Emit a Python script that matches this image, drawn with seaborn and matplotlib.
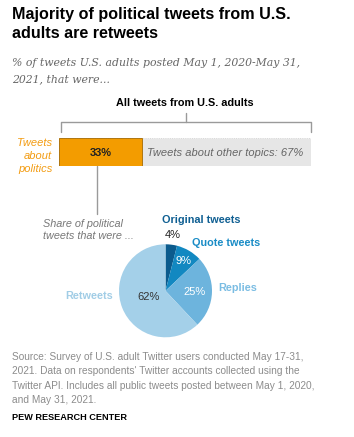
import numpy as np
import pandas as pd
import matplotlib
matplotlib.use("Agg")
import matplotlib.pyplot as plt
import seaborn as sns

# ---- data ----
bar_labels = ["Tweets about politics", "Tweets about other topics"]
bar_values = [33, 67]
bar_colors = ["#f39c00", "#e6e6e6"]

pie_labels = ["Original tweets", "Quote tweets", "Replies", "Retweets"]
pie_values = [4, 9, 25, 62]
pie_colors = ["#0b5b8d", "#1288c1", "#6db4dd", "#a4d0e9"]
label_colors = ["#0f5f92", "#1a8cc6", "#7bbde3", "#a1cde6"]
pct_colors = ["#222222", "white", "white", "#333333"]

sns.set_theme(style="white")
plt.rcParams['font.family'] = ['Liberation Sans', 'DejaVu Sans']

W, H = 354, 437
fig = plt.figure(figsize=(W / 100, H / 100), dpi=100)
fig.patch.set_facecolor("white")

ax = fig.add_axes([0, 0, 1, 1])
ax.set_xlim(0, W)
ax.set_ylim(H, 0)
ax.axis("off")


def px_axes(x0, y0, x1, y1):
    return fig.add_axes([x0 / W, 1 - y1 / H, (x1 - x0) / W, (y1 - y0) / H])


# ---- title / subtitle ----
ax.text(12, 19, "Majority of political tweets from U.S.", fontsize=11.6,
        weight="bold", color="black", va="baseline")
ax.text(12, 37.5, "adults are retweets", fontsize=11.6, weight="bold",
        color="black", va="baseline")
ax.text(12, 66, "% of tweets U.S. adults posted May 1, 2020-May 31,",
        fontsize=7.8, style="italic", family="DejaVu Serif", color="#666666",
        va="baseline")
ax.text(12, 82, "2021, that were...", fontsize=7.8, style="italic",
        family="DejaVu Serif", color="#666666", va="baseline")

# ---- bracket above bar ----
ax.text(185, 105.7, "All tweets from U.S. adults", fontsize=7.8, weight="bold",
        ha="center", va="baseline", color="black")
lc = "#9a9a9a"
ax.plot([186, 186], [112.5, 122], color=lc, lw=1)
ax.plot([61, 61, 310.5, 310.5], [131.5, 122, 122, 131.5], color=lc, lw=1)

# ---- stacked bar ----
axb = px_axes(59.3, 137.7, 310.7, 165.7)
cum = np.cumsum(bar_values)
for i in reversed(range(len(bar_values))):
    sns.barplot(x=[cum[i]], y=[""], orient="h", color=bar_colors[i],
                width=1, saturation=1, ax=axb,
                edgecolor="#a66a00" if i == 0 else "#cfcfcf",
                linewidth=0.6, linestyle="-" if i == 0 else ":")
axb.set_xlim(0, cum[-1])
axb.set_ylim(0.5, -0.5)
axb.axis("off")
axb.text(bar_values[0] / 2, 0.05, f"{bar_values[0]}%", fontsize=8,
         weight="bold", ha="center", va="center", color="#222222")
axb.text(bar_values[0] + 2, 0.05, f"{bar_labels[1]}: {bar_values[1]}%",
         fontsize=8, style="italic", ha="left", va="center", color="#666666")

ax.text(52.3, 138.5, "Tweets\nabout\npolitics", fontsize=8, style="italic",
        color="#f39c12", ha="right", va="top", linespacing=1.35)

ax.plot([97, 97], [166, 214], color=lc, lw=1)
ax.text(43.3, 227.3, "Share of political", fontsize=7.8, style="italic",
        color="#777777", va="baseline")
ax.text(43.3, 239.3, "tweets that were ...", fontsize=7.8, style="italic",
        color="#777777", va="baseline")

# ---- pie ----
cx, cy, r = 165.5, 290.8, 46.5
axp = px_axes(cx - r, cy - r, cx + r, cy + r)
wedges, _ = axp.pie(pie_values, colors=pie_colors, startangle=90,
                    counterclock=False, radius=1,
                    wedgeprops=dict(linewidth=0))
axp.set_xlim(-1, 1)
axp.set_ylim(-1, 1)
axp.set_aspect("equal")
axp.axis("off")

pct_r = [1.2, 0.74, 0.63, 0.39]
for w, v, rr, c in zip(wedges, pie_values, pct_r, pct_colors):
    mid = np.deg2rad((w.theta1 + w.theta2) / 2)
    axp.text(rr * np.cos(mid), rr * np.sin(mid), f"{v}%", fontsize=8,
             ha="center", va="center", color=c, clip_on=False)

lab_pos = [(162, 223, "left"), (192, 246, "left"), (218, 291, "left"),
           (113, 299, "right")]
for (x, y, ha), t, c in zip(lab_pos, pie_labels, label_colors):
    ax.text(x, y, t, fontsize=7.8, weight="bold", color=c, ha=ha, va="baseline")

# ---- source ----
src = ["Source: Survey of U.S. adult Twitter users conducted May 17-31,",
       "2021. Data on respondents' Twitter accounts collected using the",
       "Twitter API. Includes all public tweets posted between May 1, 2020,",
       "and May 31, 2021."]
for i, s in enumerate(src):
    ax.text(12, 360 + i * 14.3, s, fontsize=7.3, color="#8c8c8c", va="baseline")
ax.text(12, 420, "PEW RESEARCH CENTER", fontsize=6.6, weight="bold",
        color="black", va="baseline")

fig.savefig("out.png", dpi=100, facecolor="white")
